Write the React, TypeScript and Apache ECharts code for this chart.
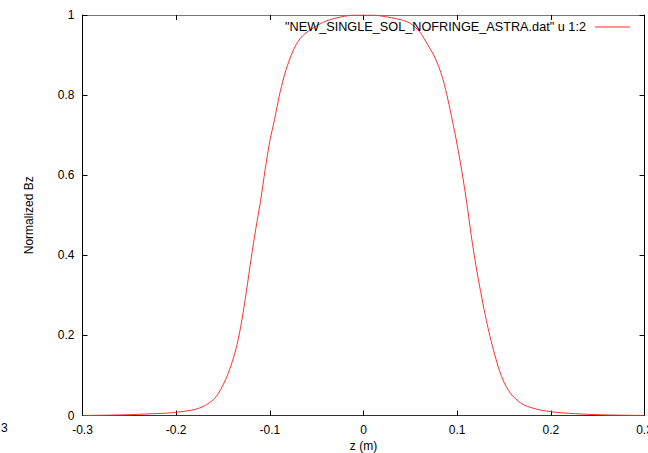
import React, { useEffect, useRef } from "react";
import * as echarts from "echarts";

const zValues = [
  -0.3, -0.27, -0.25, -0.23, -0.21, -0.2, -0.19, -0.18, -0.17, -0.16, -0.155, -0.15,
  -0.145, -0.14, -0.135, -0.13, -0.125, -0.12, -0.115, -0.11, -0.105, -0.1, -0.095,
  -0.09, -0.085, -0.08, -0.075, -0.07, -0.065, -0.06, -0.05, -0.04, -0.03, -0.02,
  -0.01, 0, 0.01, 0.02, 0.03, 0.04, 0.05, 0.06, 0.065, 0.07, 0.075, 0.08, 0.085, 0.09,
  0.095, 0.1, 0.105, 0.11, 0.115, 0.12, 0.125, 0.13, 0.135, 0.14, 0.145, 0.15, 0.155,
  0.16, 0.17, 0.18, 0.19, 0.2, 0.21, 0.23, 0.25, 0.27, 0.3,
];
const bzValues = [
  0.0, 0.001, 0.002, 0.004, 0.006, 0.008, 0.011, 0.015, 0.024, 0.04, 0.055, 0.076,
  0.102, 0.135, 0.177, 0.236, 0.31, 0.391, 0.466, 0.534, 0.614, 0.685, 0.739,
  0.797, 0.845, 0.882, 0.912, 0.934, 0.948, 0.958, 0.973, 0.985, 0.992, 0.997,
  1.0, 1.0, 1.0, 0.997, 0.993, 0.988, 0.979, 0.958, 0.94, 0.92, 0.9, 0.873, 0.838, 0.79,
  0.735, 0.676, 0.61, 0.535, 0.45, 0.375, 0.31, 0.25, 0.198, 0.153, 0.113, 0.083, 0.062,
  0.047, 0.028, 0.019, 0.013, 0.0095, 0.007, 0.004, 0.002, 0.001, 0.0,
];
const seriesName = '"NEW_SINGLE_SOL_NOFRINGE_ASTRA.dat" u 1:2';
const xTitle = "z (m)";
const yTitle = "Normalized Bz";

const FONT = "'Liberation Sans', Arial, Helvetica, sans-serif";

export default function App() {
  const ref = useRef<HTMLDivElement>(null);
  useEffect(() => {
    if (!ref.current) return;
    const chart = echarts.init(ref.current, undefined, { renderer: "svg" });
    const data = zValues.map((z, i) => [z, bzValues[i]]);
    const tickStyle = { show: true, inside: true, length: 5, lineStyle: { color: "#000", width: 1 } };
    chart.setOption({
      animation: false,
      backgroundColor: "#fff",
      textStyle: { fontFamily: FONT },
      grid: { left: 82.5, right: 3.5, top: 15, bottom: 37.5, containLabel: false, outerBoundsMode: "none" },
      legend: {
        show: true,
        right: 18,
        top: 20.5,
        padding: 0,
        align: "right",
        icon: "rect",
        itemWidth: 35,
        itemHeight: 1,
        textStyle: { fontFamily: FONT, fontSize: 12.7, color: "#000", padding: [0, 4, 0, 0] },
        data: [{ name: seriesName, itemStyle: { color: "#ff3030" } }],
      },
      xAxis: [
        {
          type: "value",
          min: -0.3,
          max: 0.3,
          interval: 0.1,
          position: "bottom",
          name: xTitle,
          nameLocation: "middle",
          nameGap: 23,
          nameTextStyle: { fontFamily: FONT, fontSize: 12, color: "#000" },
          axisLine: { show: true, onZero: false, lineStyle: { color: "#333", width: 1 } },
          axisTick: tickStyle,
          axisLabel: { fontFamily: FONT, fontSize: 12, color: "#000", margin: 8, showMinLabel: true, showMaxLabel: true },
          splitLine: { show: false },
        },
        {
          type: "value",
          min: -0.3,
          max: 0.3,
          interval: 0.1,
          position: "top",
          axisLine: { show: true, onZero: false, lineStyle: { color: "#777", width: 1 } },
          axisTick: tickStyle,
          axisLabel: { show: false },
          splitLine: { show: false },
        },
      ],
      yAxis: [
        {
          type: "value",
          min: 0,
          max: 1,
          interval: 0.2,
          position: "left",
          name: yTitle,
          nameLocation: "middle",
          nameGap: 48,
          nameRotate: 90,
          nameTextStyle: { fontFamily: FONT, fontSize: 12, color: "#000" },
          axisLine: { show: true, onZero: false, lineStyle: { color: "#000", width: 1 } },
          axisTick: tickStyle,
          axisLabel: { fontFamily: FONT, fontSize: 12, color: "#000", margin: 8 },
          splitLine: { show: false },
        },
        {
          type: "value",
          min: 0,
          max: 1,
          interval: 0.2,
          position: "right",
          axisLine: { show: true, onZero: false, lineStyle: { color: "#000", width: 1 } },
          axisTick: tickStyle,
          axisLabel: { show: false },
          splitLine: { show: false },
        },
      ],
      graphic: [
        {
          type: "text",
          left: 1,
          top: 422,
          style: { text: "3", fontFamily: FONT, fontSize: 12, fill: "#000" },
        },
      ],
      series: [
        {
          name: seriesName,
          type: "line",
          xAxisIndex: 0,
          yAxisIndex: 0,
          data,
          smooth: 0.3,
          showSymbol: false,
          symbol: "none",
          lineStyle: { color: "#ff3030", width: 1 },
          itemStyle: { color: "#ff3030" },
        },
      ],
    });
    return () => chart.dispose();
  }, []);
  return (
    <div
      ref={ref}
      style={{ position: "absolute", left: 0, top: 0, width: 648, height: 453, background: "#fff" }}
    />
  );
}
